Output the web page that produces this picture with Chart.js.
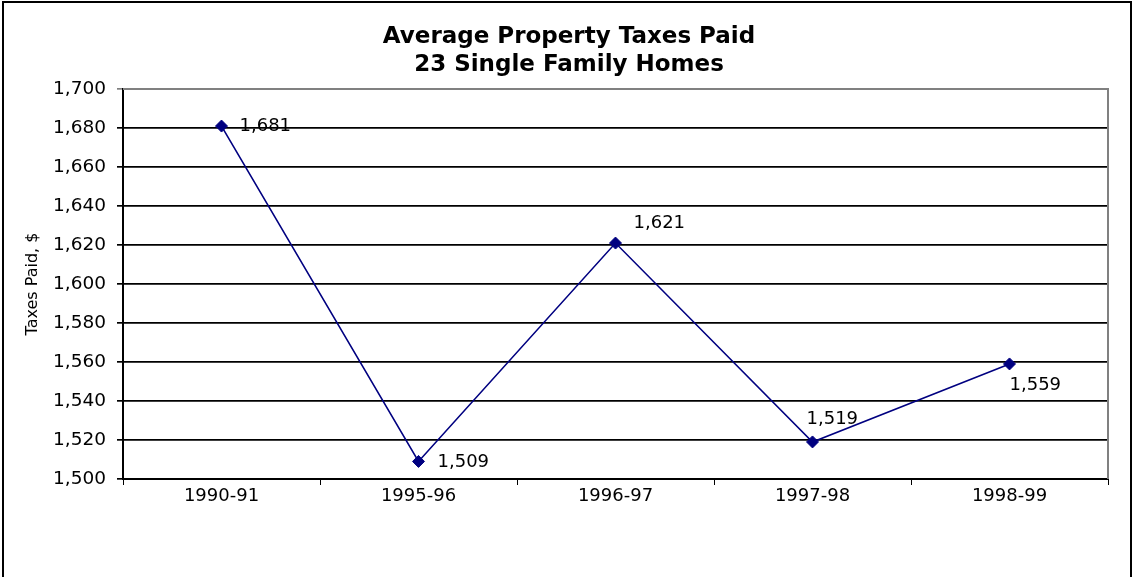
<!DOCTYPE html>
<html>
<head>
<meta charset="utf-8">
<script src="https://cdn.jsdelivr.net/npm/chart.js@4.4.1/dist/chart.umd.min.js"></script>
<style>
  html, body { margin: 0; padding: 0; background: #ffffff; }
  #wrap { width: 1132px; height: 577px; position: relative; }
</style>
</head>
<body>
<div id="wrap"><canvas id="chart"></canvas></div>
<script>
// Datos
const years = ["1990-91", "1995-96", "1996-97", "1997-98", "1998-99"];
const taxesPaid = [1681, 1509, 1621, 1519, 1559];
const yTicks = [1500, 1520, 1540, 1560, 1580, 1600, 1620, 1640, 1660, 1680, 1700];

// Desplazamiento de cada etiqueta respecto a su punto (estilo, no datos)
const labelOffsets = [[18, 0], [19, 1], [18, -20], [-6, -23], [0, 21]];

const FONT = "'DejaVu Sans', 'Liberation Sans', Arial, sans-serif";
const fmt = (v) => Number(v).toLocaleString("en-US");

const frame = {
  id: "frame",
  afterDraw(chart) {
    const { ctx, chartArea: a } = chart;
    ctx.save();
    // borde gris del área de trazado (arriba y derecha)
    ctx.strokeStyle = "#808080";
    ctx.lineWidth = 2;
    ctx.beginPath();
    ctx.moveTo(a.left, a.top);
    ctx.lineTo(a.right, a.top);
    ctx.lineTo(a.right, a.bottom);
    ctx.stroke();
    // marco exterior
    ctx.strokeStyle = "#000000";
    ctx.lineWidth = 2;
    ctx.strokeRect(3, 2, 1128, 800);
    ctx.restore();
  },
};

const pointLabels = {
  id: "pointLabels",
  afterDatasetsDraw(chart) {
    const { ctx, scales } = chart;
    ctx.save();
    ctx.font = "18px " + FONT;
    ctx.fillStyle = "#000000";
    ctx.textAlign = "left";
    ctx.textBaseline = "middle";
    taxesPaid.forEach((v, i) => {
      const x = scales.x.getPixelForValue(i);
      const y = scales.y.getPixelForValue(v);
      const [dx, dy] = labelOffsets[i];
      ctx.fillText(fmt(v), x + dx, y + dy);
    });
    ctx.restore();
  },
};

new Chart(document.getElementById("chart"), {
  type: "line",
  data: {
    labels: years,
    datasets: [
      {
        data: taxesPaid,
        borderColor: "#000080",
        backgroundColor: "#000080",
        borderWidth: 1.6,
        tension: 0,
        pointStyle: "rectRot",
        pointRadius: 6,
        pointBackgroundColor: "#000080",
        pointBorderColor: "#000080",
        pointBorderWidth: 1,
      },
    ],
  },
  options: {
    responsive: true,
    maintainAspectRatio: false,
    animation: false,
    layout: { padding: { top: 5, left: 30, right: 24, bottom: 38 } },
    plugins: {
      legend: { display: false },
      tooltip: { enabled: false },
      title: {
        display: true,
        text: ["Average Property Taxes Paid", "23 Single Family Homes"],
        color: "#000000",
        font: { family: FONT, size: 23, weight: "bold", lineHeight: "28px" },
        padding: { top: 18.5, bottom: 9.5 },
      },
    },
    scales: {
      x: {
        offset: true,
        afterFit: (s) => { s.height = 60; },
        grid: {
          offset: true,
          drawOnChartArea: false,
          color: "#000000",
          tickLength: 6,
        },
        border: { color: "#000000", width: 2 },
        ticks: {
          color: "#000000",
          padding: 1,
          maxRotation: 0,
          font: { family: FONT, size: 18 },
        },
      },
      y: {
        min: 1500,
        max: 1700,
        afterFit: (s) => { s.width = 93; },
        afterBuildTicks: (s) => { s.ticks = yTicks.map((v) => ({ value: v })); },
        grid: {
          color: (c) => (c.tick && c.tick.value === 1700 ? "#808080" : "#000000"),
          lineWidth: 1.7,
          tickLength: 6,
        },
        border: { color: "#000000", width: 2 },
        ticks: {
          color: "#000000",
          padding: 11,
          callback: (v) => fmt(v),
          font: { family: FONT, size: 18.5 },
        },
        title: {
          display: true,
          text: "Taxes Paid, $",
          color: "#000000",
          font: { family: FONT, size: 16 },
          padding: { top: -7, bottom: 0 },
        },
      },
    },
  },
  plugins: [pointLabels, frame],
});
</script>
</body>
</html>
